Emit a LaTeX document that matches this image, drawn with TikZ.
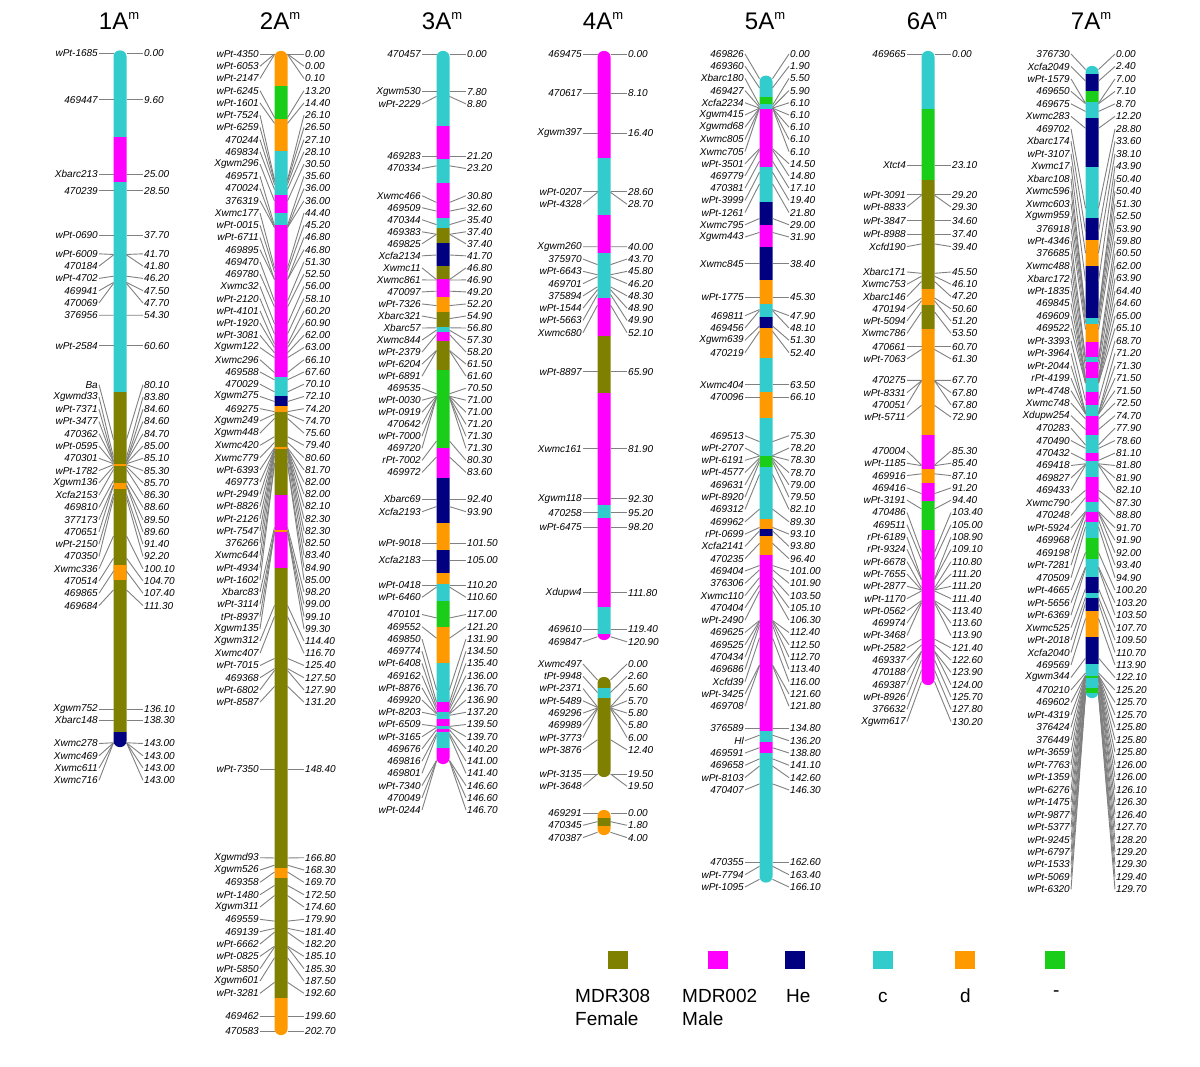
\documentclass[tikz,border=0pt]{standalone}
\usepackage{fontspec}
\setmainfont{Liberation Sans}
\definecolor{cOl}{RGB}{128,128,0}
\definecolor{cMa}{RGB}{255,0,255}
\definecolor{cNa}{RGB}{0,0,128}
\definecolor{cCy}{RGB}{51,204,204}
\definecolor{cOr}{RGB}{255,153,0}
\definecolor{cGr}{RGB}{25,205,25}
\definecolor{cLn}{RGB}{128,128,128}
\newcounter{mk}
\def\sc{4.82}
\def\hw{6.5}
\newcommand\chromo[2]{\gdef\cx{#1}\gdef\ct{#2}}
\newcommand\sg[3]{\fill[#1] (\cx-\hw-1,#2) rectangle (\cx+\hw+1,#3);}
\newcommand\mk[3]{%
  \stepcounter{mk}%
  \pgfmathsetmacro\mkY{\ct+(#2)*\sc}%
  \pgfmathsetmacro\mkL{#3}%
  \node[lblL] (L\themk) at (\cx-21,\mkL) {#1};%
  \node[lblR] (R\themk) at (\cx+23,\mkL) {#2};%
  \coordinate (A\themk) at (\cx-\hw,\mkY);%
  \coordinate (B\themk) at (\cx+\hw,\mkY);%
  \draw[conn] (L\themk.east) -- (A\themk);%
  \draw[conn] (B\themk) -- (R\themk.west);%
}
\newcommand\mi[2]{\mk{#1}{#2}{\ct+(#2)*\sc}}
\newcommand\run[2]{\xdef\ly{#1}\xdef\lsp{#2}}
\newcommand\mr[2]{\mk{#1}{#2}{\ly}\pgfmathsetmacro\mkT{\ly+\lsp}\global\let\ly\mkT}
\newcommand\barclip[2]{\clip[rounded corners=6pt] (\cx-\hw,#1) rectangle (\cx+\hw,#2);}
\begin{document}
\begin{tikzpicture}[x=1pt,y=-1pt,
  lblL/.style={anchor=east,inner sep=1pt,font=\itshape\fontsize{10}{12}\selectfont},
  lblR/.style={anchor=west,inner sep=1pt,font=\itshape\fontsize{10}{12}\selectfont},
  conn/.style={draw=cLn,line width=0.9pt},
  ttl/.style={anchor=base,inner sep=0pt,font=\fontsize{24}{24}\selectfont},
  sq/.style={minimum width=20pt,minimum height=18pt,inner sep=0pt,draw=none},
  leg/.style={anchor=base west,inner sep=0pt,font=\fontsize{19}{22}\selectfont}]
\useasboundingbox (0,0) rectangle (1200,1067);
\fill[white] (0,0) rectangle (1200,1067);
% titles
\node[ttl] (T1) at (119,30) {1A\raisebox{10pt}{\fontsize{13}{13}\selectfont m}};
\node[ttl] (T2) at (280,30) {2A\raisebox{10pt}{\fontsize{13}{13}\selectfont m}};
\node[ttl] (T3) at (442,30) {3A\raisebox{10pt}{\fontsize{13}{13}\selectfont m}};
\node[ttl] (T4) at (603,30) {4A\raisebox{10pt}{\fontsize{13}{13}\selectfont m}};
\node[ttl] (T5) at (765,30) {5A\raisebox{10pt}{\fontsize{13}{13}\selectfont m}};
\node[ttl] (T6) at (927,30) {6A\raisebox{10pt}{\fontsize{13}{13}\selectfont m}};
\node[ttl] (T7) at (1091,30) {7A\raisebox{10pt}{\fontsize{13}{13}\selectfont m}};
% ================= 1A
\chromo{120}{53.5}
\begin{scope}\barclip{50.5}{747}
\sg{cCy}{40}{137}\sg{cMa}{137}{181.7}\sg{cCy}{181.7}{391.8}\sg{cOl}{391.8}{731.5}\sg{cNa}{731.5}{760}
\sg{cOr}{463.6}{466.3}\sg{cOr}{482.5}{488.8}\sg{cOr}{565}{580}
\end{scope}
\mi{wPt-1685}{0.00}
\mi{469447}{9.60}
\mi{Xbarc213}{25.00}
\mi{470239}{28.50}
\mi{wPt-0690}{37.70}
\run{253.8}{12.3}
\mr{wPt-6009}{41.70}\mr{470184}{41.80}\mr{wPt-4702}{46.20}\mr{469941}{47.50}\mr{470069}{47.70}\mr{376956}{54.30}
\mi{wPt-2584}{60.60}
\run{384.7}{12.27}
\mr{Ba}{80.10}\mr{Xgwmd33}{83.80}\mr{wPt-7371}{84.60}\mr{wPt-3477}{84.60}\mr{470362}{84.70}
\mr{wPt-0595}{85.00}\mr{470301}{85.10}\mr{wPt-1782}{85.30}\mr{Xgwm136}{85.70}\mr{Xcfa2153}{86.30}
\mr{469810}{88.60}\mr{377173}{89.50}\mr{470651}{89.60}\mr{wPt-2150}{91.40}\mr{470350}{92.20}
\mr{Xwmc336}{100.10}\mr{470514}{104.70}\mr{469865}{107.40}\mr{469684}{111.30}
\mi{Xgwm752}{136.10}
\mi{Xbarc148}{138.30}
\run{743.5}{12.27}
\mr{Xwmc278}{143.00}\mr{Xwmc469}{143.00}\mr{Xwmc611}{143.00}\mr{Xwmc716}{143.00}
% ================= 2A
\chromo{281}{54}
\begin{scope}\barclip{51}{1035}
\sg{cOr}{40}{85.7}\sg{cGr}{85.7}{119.3}\sg{cOr}{119.3}{151}\sg{cCy}{151}{195}\sg{cMa}{195}{213.3}
\sg{cCy}{213.3}{225}\sg{cMa}{225}{376.7}\sg{cCy}{376.7}{396}\sg{cNa}{396}{406}\sg{cOr}{406}{411.7}
\sg{cOl}{411.7}{495}\sg{cOr}{446.7}{448.7}\sg{cMa}{495}{568.3}\sg{cOr}{530.3}{532.3}
\sg{cOl}{568.3}{868.3}\sg{cOr}{868.3}{878.3}\sg{cOl}{878.3}{998.3}\sg{cOr}{998.3}{1045}
\end{scope}
\run{54}{12.23}
\mr{wPt-4350}{0.00}\mr{wPt-6053}{0.00}\mr{wPt-2147}{0.10}\mr{wPt-6245}{13.20}\mr{wPt-1601}{14.40}
\mr{wPt-7524}{26.10}\mr{wPt-6259}{26.50}\mr{470244}{27.10}\mr{469834}{28.10}\mr{Xgwm296}{30.50}
\mr{469571}{35.60}\mr{470024}{36.00}\mr{376319}{36.00}\mr{Xwmc177}{44.40}\mr{wPt-0015}{45.20}
\mr{wPt-6711}{46.80}\mr{469895}{46.80}\mr{469470}{51.30}\mr{469780}{52.50}\mr{Xwmc32}{56.00}
\mr{wPt-2120}{58.10}\mr{wPt-4101}{60.20}\mr{wPt-1920}{60.90}\mr{wPt-3081}{62.00}\mr{Xgwm122}{63.00}
\mr{Xwmc296}{66.10}\mr{469588}{67.60}\mr{470029}{70.10}\mr{Xgwm275}{72.10}\mr{469275}{74.20}
\mr{Xgwm249}{74.70}\mr{Xgwm448}{75.60}\mr{Xwmc420}{79.40}\mr{Xwmc779}{80.60}\mr{wPt-6393}{81.70}
\mr{469773}{82.00}\mr{wPt-2949}{82.00}\mr{wPt-8826}{82.10}\mr{wPt-2126}{82.30}\mr{wPt-7547}{82.30}
\mr{376266}{82.50}\mr{Xwmc644}{83.40}\mr{wPt-4934}{84.90}\mr{wPt-1602}{85.00}\mr{Xbarc83}{98.20}
\mr{wPt-3114}{99.00}\mr{tPt-8937}{99.10}\mr{Xgwm135}{99.30}\mr{Xgwm312}{114.40}\mr{Xwmc407}{116.70}
\mr{wPt-7015}{125.40}\mr{469368}{127.50}\mr{wPt-6802}{127.90}\mr{wPt-8587}{131.20}
\mi{wPt-7350}{148.40}
\run{857.7}{12.33}
\mr{Xgwmd93}{166.80}\mr{Xgwm526}{168.30}\mr{469358}{169.70}\mr{wPt-1480}{172.50}\mr{Xgwm311}{174.60}
\mr{469559}{179.90}\mr{469139}{181.40}\mr{wPt-6662}{182.20}\mr{wPt-0825}{185.10}\mr{wPt-5850}{185.30}
\mr{Xgwm601}{187.50}\mr{wPt-3281}{192.60}
\mi{469462}{199.60}
\mi{470583}{202.70}
% ================= 3A
\chromo{443}{54}
\begin{scope}\barclip{51}{764}
\sg{cCy}{40}{126}\sg{cMa}{126}{159.3}\sg{cCy}{159.3}{183.3}\sg{cMa}{183.3}{218.3}\sg{cCy}{218.3}{228.3}
\sg{cOl}{228.3}{243.3}\sg{cNa}{243.3}{266}\sg{cOl}{266}{279.3}\sg{cMa}{279.3}{297.3}\sg{cOr}{297.3}{311.7}
\sg{cOl}{311.7}{327.3}\sg{cCy}{327.3}{332.3}\sg{cMa}{332.3}{341}\sg{cOl}{341}{370}\sg{cGr}{370}{448.3}
\sg{cMa}{448.3}{478.3}\sg{cNa}{478.3}{523.3}\sg{cOr}{523.3}{550}\sg{cNa}{550}{572.7}\sg{cOr}{572.7}{584.3}
\sg{cCy}{584.3}{601}\sg{cGr}{601}{626.7}\sg{cOr}{626.7}{662.7}\sg{cCy}{662.7}{702.3}\sg{cMa}{702.3}{711.7}
\sg{cCy}{711.7}{719.3}\sg{cMa}{719.3}{725.7}\sg{cCy}{725.7}{729.3}\sg{cMa}{729.3}{731.5}\sg{cCy}{731.5}{748.3}
\sg{cMa}{748.3}{775}
\end{scope}
\mi{470457}{0.00}
\mi{Xgwm530}{7.80}
\mk{wPt-2229}{8.80}{103.9}
\mi{469283}{21.20}
\mk{470334}{23.20}{168.5}
\run{195.7}{12.03}
\mr{Xwmc466}{30.80}\mr{469509}{32.60}\mr{470344}{35.40}\mr{469383}{37.40}\mr{469825}{37.40}
\mr{Xcfa2134}{41.70}\mr{Xwmc11}{46.80}\mr{Xwmc861}{46.90}\mr{470097}{49.20}\mr{wPt-7326}{52.20}
\mr{Xbarc321}{54.90}\mr{Xbarc57}{56.80}\mr{Xwmc844}{57.30}\mr{wPt-2379}{58.20}\mr{wPt-6204}{61.50}
\mr{wPt-6891}{61.60}\mr{469535}{70.50}\mr{wPt-0030}{71.00}\mr{wPt-0919}{71.00}\mr{470642}{71.20}
\mr{wPt-7000}{71.30}\mr{469720}{71.30}\mr{rPt-7002}{80.30}\mr{469972}{83.60}
\mi{Xbarc69}{92.40}
\mk{Xcfa2193}{93.90}{511.7}
\mi{wPt-9018}{101.50}
\mi{Xcfa2183}{105.00}
\mi{wPt-0418}{110.20}
\mk{wPt-6460}{110.60}{597.3}
\run{614.5}{12.22}
\mr{470101}{117.00}\mr{469552}{121.20}\mr{469850}{131.90}\mr{469774}{134.50}\mr{wPt-6408}{135.40}
\mr{469162}{136.00}\mr{wPt-8876}{136.70}\mr{469920}{136.90}\mr{wPt-8203}{137.20}\mr{wPt-6509}{139.50}
\mr{wPt-3165}{139.70}\mr{469676}{140.20}\mr{469816}{141.00}\mr{469801}{141.40}\mr{wPt-7340}{146.60}
\mr{470049}{146.60}\mr{wPt-0244}{146.70}
% ================= 4A
\chromo{604}{54}
\begin{scope}\barclip{51}{640}
\sg{cMa}{40}{158.2}\sg{cCy}{158.2}{214.6}\sg{cMa}{214.6}{252.8}\sg{cCy}{252.8}{298.3}\sg{cMa}{298.3}{336.5}
\sg{cOl}{336.5}{393}\sg{cMa}{393}{505}\sg{cCy}{505}{518}\sg{cMa}{518}{607}\sg{cCy}{607}{634}\sg{cMa}{634}{650}
\end{scope}
\mi{469475}{0.00}
\mi{470617}{8.10}
\mi{Xgwm397}{16.40}
\mi{wPt-0207}{28.60}
\mk{wPt-4328}{28.70}{204.2}
\run{246.8}{12.27}
\mr{Xgwm260}{40.00}\mr{375970}{43.70}\mr{wPt-6643}{45.80}\mr{469701}{46.20}\mr{375894}{48.30}
\mr{wPt-1544}{48.90}\mr{wPt-5663}{49.90}\mr{Xwmc680}{52.10}
\mi{wPt-8897}{65.90}
\mi{Xwmc161}{81.90}
\mi{Xgwm118}{92.30}
\mi{470258}{95.20}
\mi{wPt-6475}{98.20}
\mi{Xdupw4}{111.80}
\mi{469610}{119.40}
\mk{469847}{120.90}{641.8}
% 4A group 2
\chromo{604}{680}
\begin{scope}\barclip{677}{777}
\sg{cOl}{670}{688}\sg{cCy}{688}{698}\sg{cOl}{698}{790}
\end{scope}
\run{664}{12.27}
\mr{Xwmc497}{0.00}\mr{tPt-9948}{2.60}\mr{wPt-2371}{5.60}\mr{wPt-5489}{5.70}\mr{469296}{5.80}
\mr{469989}{5.80}\mr{wPt-3773}{6.00}\mr{wPt-3876}{12.40}
\mi{wPt-3135}{19.50}
\mk{wPt-3648}{19.50}{786.3}
% 4A group 3
\chromo{604}{813}
\begin{scope}\barclip{810}{835}
\sg{cOr}{800}{818}\sg{cOl}{818}{826}\sg{cOr}{826}{845}
\end{scope}
\mi{469291}{0.00}
\mk{470345}{1.80}{825.3}
\mk{470387}{4.00}{837.6}
% ================= 5A
\chromo{766}{78.7}
\begin{scope}\barclip{75.7}{882.5}
\sg{cCy}{65}{96.7}\sg{cGr}{96.7}{104}\sg{cCy}{104}{109}\sg{cMa}{109}{167.3}\sg{cCy}{167.3}{201.7}
\sg{cNa}{201.7}{225}\sg{cMa}{225}{247.3}\sg{cNa}{247.3}{280}\sg{cOr}{280}{304}\sg{cCy}{304}{317.3}
\sg{cNa}{317.3}{328.3}\sg{cOr}{328.3}{358.3}\sg{cCy}{358.3}{391.7}\sg{cOr}{391.7}{417.7}\sg{cCy}{417.7}{456}
\sg{cGr}{456}{466.5}\sg{cCy}{466.5}{519.3}\sg{cOr}{519.3}{529.3}\sg{cNa}{529.3}{536}\sg{cOr}{536}{555}
\sg{cMa}{555}{730.7}\sg{cCy}{730.7}{741.7}\sg{cMa}{741.7}{752.7}\sg{cCy}{752.7}{895}
\end{scope}
\run{54}{12.2}
\mr{469826}{0.00}\mr{469360}{1.90}\mr{Xbarc180}{5.50}\mr{469427}{5.90}\mr{Xcfa2234}{6.10}
\mr{Xgwm415}{6.10}\mr{Xgwmd68}{6.10}\mr{Xwmc805}{6.10}\mr{Xwmc705}{6.10}\mr{wPt-3501}{14.50}
\mr{469779}{14.80}\mr{470381}{17.10}\mr{wPt-3999}{19.40}\mr{wPt-1261}{21.80}\mr{Xwmc795}{29.00}
\mr{Xgwm443}{31.90}
\mi{Xwmc845}{38.40}
\mi{wPt-1775}{45.30}
\run{315.7}{12.3}
\mr{469811}{47.90}\mr{469456}{48.10}\mr{Xgwm639}{51.30}\mr{470219}{52.40}
\mi{Xwmc404}{63.50}
\mi{470096}{66.10}
\run{435.7}{12.3}
\mr{469513}{75.30}\mr{wPt-2707}{78.20}\mr{wPt-6191}{78.30}\mr{wPt-4577}{78.70}\mr{469631}{79.00}
\mr{wPt-8920}{79.50}\mr{469312}{82.10}\mr{469962}{89.30}\mr{rPt-0699}{93.10}\mr{Xcfa2141}{93.80}
\mr{470235}{96.40}\mr{469404}{101.00}\mr{376306}{101.90}\mr{Xwmc110}{103.50}\mr{470404}{105.10}
\mr{wPt-2490}{106.30}\mr{469625}{112.40}\mr{469525}{112.50}\mr{470434}{112.70}\mr{469686}{113.40}
\mr{Xcfd39}{116.00}\mr{wPt-3425}{121.60}\mr{469708}{121.80}
\mi{376589}{134.80}
\run{740.7}{12.3}
\mr{Hl}{136.20}\mr{469591}{138.80}\mr{469658}{141.10}\mr{wPt-8103}{142.60}\mr{470407}{146.30}
\mi{470355}{162.60}
\mk{wPt-7794}{163.40}{874.7}
\mk{wPt-1095}{166.10}{887}
% ================= 6A
\chromo{928}{54}
\begin{scope}\barclip{51}{685}
\sg{cCy}{40}{109.3}\sg{cGr}{109.3}{180}\sg{cOl}{180}{289.3}\sg{cOr}{289.3}{305}\sg{cOl}{305}{329.3}
\sg{cOr}{329.3}{435}\sg{cMa}{435}{469.3}\sg{cOr}{469.3}{482.7}\sg{cMa}{482.7}{500.7}\sg{cGr}{500.7}{530}
\sg{cMa}{530}{700}
\end{scope}
\mi{469665}{0.00}
\mi{Xtct4}{23.10}
\mi{wPt-3091}{29.20}
\mk{wPt-8833}{29.30}{207}
\mi{wPt-3847}{34.60}
\mi{wPt-8988}{37.40}
\mk{Xcfd190}{39.40}{246.6}
\run{272}{12.27}
\mr{Xbarc171}{45.50}\mr{Xwmc753}{46.10}\mr{Xbarc146}{47.20}\mr{470194}{50.60}\mr{wPt-5094}{51.20}\mr{Xwmc786}{53.50}
\mi{470661}{60.70}
\mk{wPt-7063}{61.30}{358.9}
\run{380.3}{12.27}
\mr{470275}{67.70}\mr{wPt-8331}{67.80}\mr{470051}{67.80}\mr{wPt-5711}{72.90}
\run{451}{12.3}
\mr{470004}{85.30}\mr{wPt-1185}{85.40}\mr{469916}{87.10}\mr{469416}{91.20}\mr{wPt-3191}{94.40}
\mr{470486}{103.40}\mr{469511}{105.00}\mr{rPt-6189}{108.90}\mr{rPt-9324}{109.10}\mr{wPt-6678}{110.80}
\mr{wPt-7655}{111.20}\mr{wPt-2877}{111.20}\mr{wPt-1170}{111.40}\mr{wPt-0562}{113.40}\mr{469974}{113.60}
\mr{wPt-3468}{113.90}\mr{wPt-2582}{121.40}\mr{469337}{122.60}\mr{470188}{123.90}\mr{469387}{124.00}
\mr{wPt-8926}{125.70}\mr{376632}{127.80}\mr{Xgwm617}{130.20}
% ================= 7A
\chromo{1092}{69.5}
\begin{scope}\barclip{66}{698}
\sg{cCy}{55}{74.3}\sg{cNa}{74.3}{91}\sg{cGr}{91}{101.7}\sg{cCy}{101.7}{117.7}\sg{cNa}{117.7}{166.7}
\sg{cCy}{166.7}{217.7}\sg{cNa}{217.7}{240}\sg{cOr}{240}{266}\sg{cNa}{266}{318.3}\sg{cCy}{318.3}{324}
\sg{cOr}{324}{341.7}\sg{cMa}{341.7}{356.7}\sg{cCy}{356.7}{362.3}\sg{cMa}{362.3}{378.3}\sg{cCy}{378.3}{391.7}
\sg{cMa}{391.7}{405}\sg{cCy}{405}{416}\sg{cMa}{416}{435}\sg{cCy}{435}{453.3}\sg{cMa}{453.3}{460.7}
\sg{cCy}{460.7}{476.7}\sg{cMa}{476.7}{501.7}\sg{cCy}{501.7}{511.7}\sg{cMa}{511.7}{522.3}\sg{cCy}{522.3}{538.3}
\sg{cGr}{538.3}{559.3}\sg{cCy}{559.3}{577.3}\sg{cNa}{577.3}{592.7}\sg{cCy}{592.7}{597.7}\sg{cNa}{597.7}{610.7}
\sg{cOr}{610.7}{636.7}\sg{cNa}{636.7}{664}\sg{cCy}{664}{676}\sg{cGr}{676}{677.5}\sg{cCy}{677.5}{688.3}
\sg{cGr}{688.3}{692.7}\sg{cCy}{692.7}{710}
\end{scope}
\run{54}{12.47}
\mr{376730}{0.00}\mr{Xcfa2049}{2.40}\mr{wPt-1579}{7.00}\mr{469650}{7.10}\mr{469675}{8.70}
\mr{Xwmc283}{12.20}\mr{469702}{28.80}\mr{Xbarc174}{33.60}\mr{wPt-3107}{38.10}\mr{Xwmc17}{43.90}
\mr{Xbarc108}{50.40}\mr{Xwmc596}{50.40}\mr{Xwmc603}{51.30}\mr{Xgwm959}{52.50}\mr{376918}{53.90}
\mr{wPt-4346}{59.80}\mr{376685}{60.50}\mr{Xwmc488}{62.00}\mr{Xbarc172}{63.90}\mr{wPt-1835}{64.40}
\mr{469845}{64.60}\mr{469609}{65.00}\mr{469522}{65.10}\mr{wPt-3393}{68.70}\mr{wPt-3964}{71.20}
\mr{wPt-2044}{71.30}\mr{rPt-4199}{71.50}\mr{wPt-4748}{71.50}\mr{Xwmc748}{72.50}\mr{Xdupw254}{74.70}
\mr{470283}{77.90}\mr{470490}{78.60}\mr{470432}{81.10}\mr{469418}{81.80}\mr{469827}{81.90}
\mr{469433}{82.10}\mr{Xwmc790}{87.30}\mr{470248}{88.80}\mr{wPt-5924}{91.70}\mr{469968}{91.90}
\mr{469198}{92.00}\mr{wPt-7281}{93.40}\mr{470509}{94.90}\mr{wPt-4665}{100.20}\mr{wPt-5656}{103.20}
\mr{wPt-6369}{103.50}\mr{Xwmc525}{107.70}\mr{wPt-2018}{109.50}\mr{Xcfa2040}{110.70}\mr{469569}{113.90}
\mr{Xgwm344}{122.10}\mr{470210}{125.20}\mr{469602}{125.70}\mr{wPt-4319}{125.70}\mr{376424}{125.80}
\mr{376449}{125.80}\mr{wPt-3659}{125.80}\mr{wPt-7763}{126.00}\mr{wPt-1359}{126.00}\mr{wPt-6276}{126.10}
\mr{wPt-1475}{126.30}\mr{wPt-9877}{126.40}\mr{wPt-5377}{127.70}\mr{wPt-9245}{128.20}\mr{wPt-6797}{129.20}
\mr{wPt-1533}{129.30}\mr{wPt-5069}{129.40}\mr{wPt-6320}{129.70}
% ================= legend
\node[sq,fill=cOl] (K1) at (618,960) {};
\node[sq,fill=cMa] (K2) at (718,960) {};
\node[sq,fill=cNa] (K3) at (795,960) {};
\node[sq,fill=cCy] (K4) at (883,960) {};
\node[sq,fill=cOr] (K5) at (965,960) {};
\node[sq,fill=cGr] (K6) at (1055,960) {};
\node[leg] (G1a) at (575,1002) {MDR308};
\node[leg] (G1b) at (575,1025) {Female};
\node[leg] (G2a) at (682,1002) {MDR002};
\node[leg] (G2b) at (682,1025) {Male};
\node[leg] (G3) at (786,1002) {He};
\node[leg] (G4) at (878,1002) {c};
\node[leg] (G5) at (960,1002) {d};
\node[leg] (G6) at (1053,996) {-};
\end{tikzpicture}
\end{document}
